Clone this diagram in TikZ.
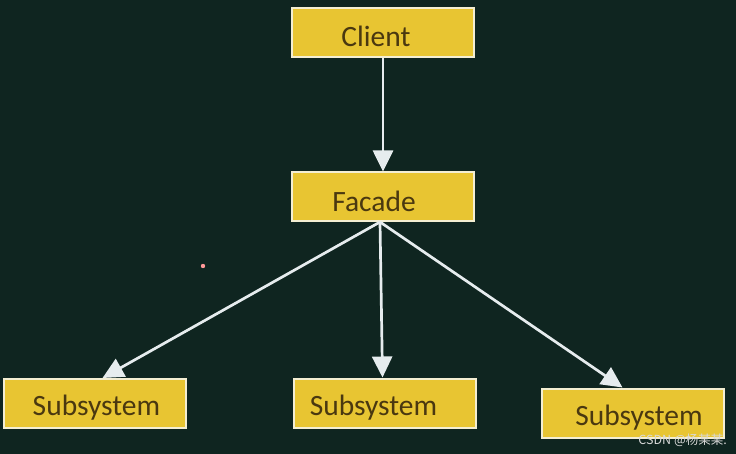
\documentclass[tikz,border=0pt]{standalone}
\usepackage{fontspec}
\setmainfont{Carlito}
\newfontfamily\cjk{Noto Sans CJK SC}
\usetikzlibrary{arrows.meta}
\definecolor{bg}{HTML}{0F2520}
\definecolor{boxfill}{HTML}{E8C532}
\definecolor{boxline}{HTML}{F4EED2}
\definecolor{txt}{HTML}{4A3810}
\definecolor{arr}{HTML}{E6ECEE}
\tikzset{
  box/.style={draw=boxline, line width=2pt, fill=boxfill, minimum width=182pt, minimum height=49pt, inner sep=0pt},
  lbl/.style={inner sep=0pt, text=txt, font=\fontsize{29.5}{32}\selectfont},
  conn/.style={draw=arr, line width=2.7pt, -{Triangle[length=21pt,width=20pt,fill=arr]}}
}
\begin{document}
\begin{tikzpicture}[x=1pt,y=-1pt]
\fill[bg] (0,0) rectangle (736,454);
\useasboundingbox (0,0) rectangle (736,454);
\node[box] (client) at (383,32.5) {};
\node[box] (facade) at (383,197) {};
\node[box] (s1) at (94.5,403.5) {};
\node[box] (s2) at (384.5,403) {};
\node[box] (s3) at (632.5,413) {};
\node[lbl] (tclient) at (376,36) {Client};
\node[lbl] (tfacade) at (374,201) {Facade};
\node[lbl] (ts1) at (96.5,408) {Subsystem};
\node[lbl] (ts2) at (373.5,408) {Subsystem};
\node[lbl] (ts3) at (639,418) {Subsystem};
\coordinate (fo) at (380,222);
\draw[conn] (client.south) -- (facade.north);
\draw[conn] (fo) -- ([xshift=8pt]s1.north);
\draw[conn] (fo) -- ([xshift=-2pt]s2.north);
\draw[conn] (fo) -- ([xshift=-10pt]s3.north);
\fill[pink!80!red] (203,266) circle (2.2pt);
\node[anchor=east, text=white!70!gray, font=\cjk\fontsize{12.5}{14}\selectfont, inner sep=0pt] (wm) at (727,440) {CSDN @杨某某.};
\end{tikzpicture}
\end{document}
